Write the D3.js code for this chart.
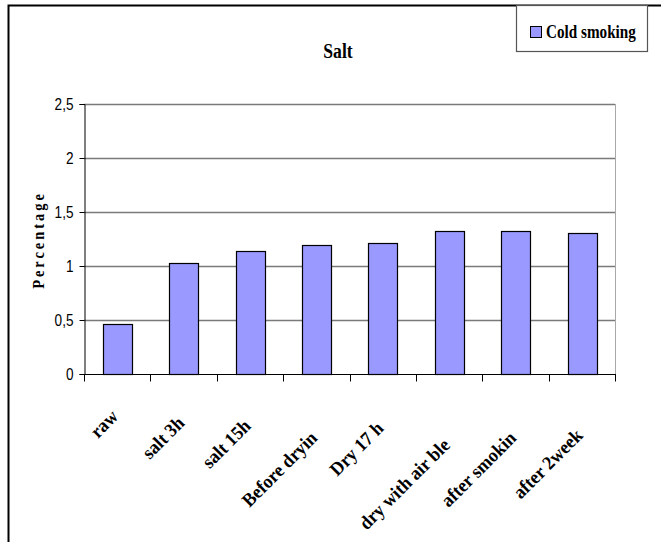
<!DOCTYPE html>
<html lang="en">
<head>
    <meta charset="UTF-8">
    <title>Salt</title>
    <script src="https://cdn.jsdelivr.net/npm/d3@7"></script>
    <style>
        body { margin: 0; background: #fff; }
    </style>
</head>
<body>
<script>

    var categories = ['raw', 'salt 3h', 'salt 15h', 'Before dryin', 'Dry 17 h', 'dry with air ble', 'after smokin', 'after 2week'];
    var coldSmoking = [0.46, 1.03, 1.14, 1.19, 1.21, 1.32, 1.32, 1.31];
    var yTicks = [0, 0.5, 1, 1.5, 2, 2.5];
    var seriesName = 'Cold smoking';

    var width = 661;
    var height = 542;
    var plot = {left: 84, right: 615, top: 104, bottom: 374};

    var svg = d3.select('body')
        .append('svg')
        .attr('width', width)
        .attr('height', height)
        .style('font-family', '"Liberation Serif", "Times New Roman", serif');

    svg.append('rect')
        .attr('width', width)
        .attr('height', height)
        .attr('fill', '#fff');

    // outer chart frame (only left and top edges are in view)
    svg.append('path')
        .attr('d', 'M8.5,542 V5.5 H661')
        .attr('fill', 'none')
        .attr('stroke', '#000')
        .attr('stroke-width', 2);

    var x = d3.scaleBand()
        .domain(categories)
        .range([plot.left, plot.right])
        .paddingInner(0.57)
        .paddingOuter(0.285);

    var step = (plot.right - plot.left) / categories.length;

    var y = d3.scaleLinear()
        .domain([0, 2.5])
        .range([plot.bottom, plot.top]);

    // gridlines
    svg.append('g')
        .selectAll('line')
        .data(yTicks.filter(function (d) { return d > 0; }))
        .enter()
        .append('line')
        .attr('x1', plot.left)
        .attr('x2', plot.right)
        .attr('y1', function (d) { return Math.round(y(d)) + 0.5; })
        .attr('y2', function (d) { return Math.round(y(d)) + 0.5; })
        .attr('stroke', '#7a7a7a')
        .attr('stroke-width', 1.5);

    // right plot border
    svg.append('line')
        .attr('x1', plot.right + 0.5)
        .attr('x2', plot.right + 0.5)
        .attr('y1', plot.top)
        .attr('y2', plot.bottom)
        .attr('stroke', '#a8a8a8')
        .attr('stroke-width', 1);

    // bars
    svg.append('g')
        .selectAll('rect')
        .data(coldSmoking)
        .enter()
        .append('rect')
        .attr('x', function (d, i) { return Math.round(x(categories[i])) + 0.5; })
        .attr('y', function (d) { return Math.round(y(d)) + 0.5; })
        .attr('width', Math.round(x.bandwidth()))
        .attr('height', function (d) { return Math.round(y(0)) - Math.round(y(d)); })
        .attr('fill', '#9999ff')
        .attr('stroke', '#000')
        .attr('stroke-width', 1.2);

    // y axis
    var yAxis = d3.axisLeft(y)
        .tickValues(yTicks)
        .tickSize(5)
        .tickPadding(6)
        .tickFormat(function (d) { return String(d).replace('.', ','); });

    var gy = svg.append('g')
        .attr('transform', 'translate(' + (plot.left + 0.5) + ',0)')
        .call(yAxis);
    gy.selectAll('path, line').attr('stroke', '#000');
    gy.selectAll('.tick text')
        .style('font-family', '"Liberation Sans", Arial, sans-serif')
        .style('font-size', '17px')
        .attr('fill', '#000')
        .attr('x', null)
        .attr('transform', 'translate(-11,0) scale(0.8,1)');

    // x axis with ticks at category boundaries
    var gx = svg.append('g')
        .attr('transform', 'translate(0,' + (plot.bottom + 0.5) + ')');
    gx.append('line')
        .attr('x1', plot.left)
        .attr('x2', plot.right + 1)
        .attr('stroke', '#000');
    gx.selectAll('.tick')
        .data(d3.range(categories.length + 1))
        .enter()
        .append('line')
        .attr('class', 'tick')
        .attr('x1', function (i) { return Math.round(plot.left + i * step) + 0.5; })
        .attr('x2', function (i) { return Math.round(plot.left + i * step) + 0.5; })
        .attr('y1', 0)
        .attr('y2', 7)
        .attr('stroke', '#000');

    // rotated category labels: end of text under the band centre,
    // longer labels sit lower (as Excel lays them out)
    var labelScale = 0.95;
    svg.append('g')
        .selectAll('text')
        .data(categories)
        .enter()
        .append('text')
        .attr('text-anchor', 'end')
        .style('font-size', '19px')
        .style('font-weight', 'bold')
        .text(function (d) { return d; })
        .attr('transform', function (d) {
            var len = this.getComputedTextLength() * labelScale;
            var cx = x(d) + x.bandwidth() / 2 + 2;
            var cy = plot.bottom + 34 + 0.32 * len;
            return 'translate(' + cx + ',' + cy + ') rotate(-45) scale(' + labelScale + ',1)';
        });

    // y axis title
    svg.append('text')
        .attr('transform', 'translate(44,240) rotate(-90) scale(0.85,1)')
        .attr('text-anchor', 'middle')
        .style('font-size', '17px')
        .style('font-weight', 'bold')
        .style('letter-spacing', '3.5px')
        .text('Percentage');

    // chart title
    svg.append('text')
        .attr('transform', 'translate(338,58) scale(0.84,1)')
        .attr('text-anchor', 'middle')
        .style('font-size', '21px')
        .style('font-weight', 'bold')
        .text('Salt');

    // legend
    var legend = svg.append('g');
    legend.append('rect')
        .attr('x', 516.5)
        .attr('y', 5.5)
        .attr('width', 131)
        .attr('height', 46)
        .attr('fill', '#fff')
        .attr('stroke', '#555')
        .attr('stroke-width', 1.2);
    legend.append('rect')
        .attr('x', 530.5)
        .attr('y', 26.5)
        .attr('width', 11)
        .attr('height', 11)
        .attr('fill', '#9999ff')
        .attr('stroke', '#000');
    legend.append('text')
        .attr('transform', 'translate(546,38) scale(0.8,1)')
        .style('font-size', '19px')
        .style('font-weight', 'bold')
        .text(seriesName);

</script>
</body>
</html>
